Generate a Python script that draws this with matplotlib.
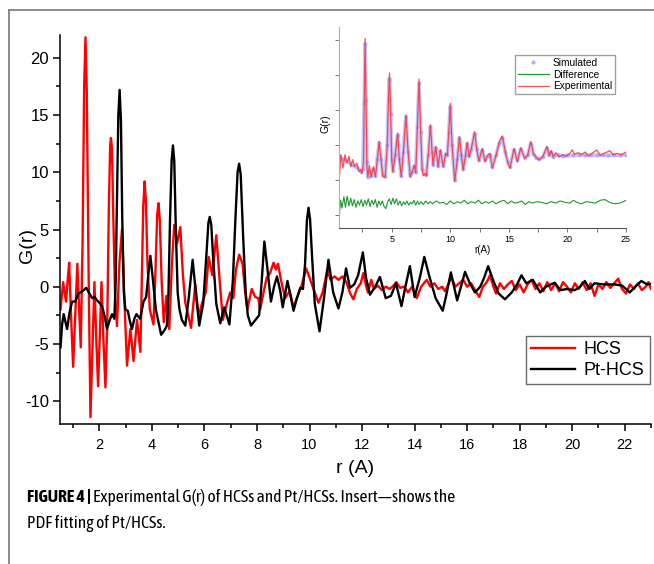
import matplotlib
matplotlib.use('Agg')
import matplotlib.pyplot as plt
from matplotlib.lines import Line2D
from matplotlib.ticker import MultipleLocator, NullFormatter
from matplotlib import font_manager

plt.rcParams['font.family'] = ['Liberation Sans', 'DejaVu Sans']
plt.rcParams['axes.unicode_minus'] = False

# ---- main plot data: G(r) of HCS and Pt-HCS ----
hcs_r = [0.52, 0.58, 0.62, 0.68, 0.73, 0.79, 0.85, 0.92, 1.0, 1.08, 1.16, 1.22, 1.29, 1.36, 1.42, 1.47,
         1.52, 1.59, 1.66, 1.74, 1.81, 1.88, 1.95, 2.02, 2.08, 2.15, 2.23, 2.3, 2.36, 2.41, 2.44, 2.48,
         2.53, 2.6, 2.67, 2.76, 2.86, 2.95, 3.05, 3.18, 3.30, 3.43, 3.56, 3.62, 3.67, 3.72, 3.77, 3.83,
         3.92, 4.06, 4.13, 4.2, 4.25, 4.3, 4.37, 4.45, 4.55, 4.66, 4.76, 4.85, 4.96, 5.08, 5.18, 5.27,
         5.38, 5.49, 5.65, 5.78, 5.9, 6.05, 6.16, 6.3, 6.45, 6.58, 6.7, 6.85, 6.98, 7.1, 7.2, 7.32,
         7.45, 7.55, 7.63, 7.8, 7.93, 8.05, 8.12, 8.25, 8.37, 8.5, 8.63, 8.72, 8.8, 8.92, 9.07, 9.24,
         9.39, 9.55, 9.71, 9.87, 10.0, 10.15, 10.34, 10.5, 10.68, 10.8, 10.95, 11.1, 11.25, 11.4,
         11.55, 11.67, 11.8, 11.95, 12.05, 12.15, 12.22, 12.35, 12.45, 12.6, 12.75, 12.9, 13.05, 13.2,
         13.3, 13.45, 13.6, 13.75, 13.9, 14.08, 14.25, 14.46, 14.6, 14.75, 14.9, 15.05, 15.16, 15.3,
         15.4, 15.55, 15.7, 15.85, 16.0, 16.15, 16.3, 16.46, 16.6, 16.75, 16.87, 17.0, 17.1, 17.25,
         17.4, 17.55, 17.7, 17.85, 18.0, 18.15, 18.3, 18.45, 18.6, 18.75, 18.9, 19.05, 19.2, 19.35,
         19.5, 19.65, 19.8, 19.95, 20.1, 20.25, 20.4, 20.55, 20.7, 20.85, 21.0, 21.15, 21.3, 21.45,
         21.6, 21.75, 21.9, 22.05, 22.2, 22.35, 22.5, 22.65, 22.8, 22.9, 23.0]
hcs_g = [-2.0, -0.5, 0.4, -0.6, -1.3, 0.5, 2.1, -2.5, -7.0, -2.5, 2.0, -1.5, -5.3, 4.0, 17.5, 21.8,
         17.0, 1.0, -11.4, -5.0, 0.4, -4.5, -8.7, -4.0, 0.4, -4.5, -8.8, -3.0, 7.0, 12.3, 13.0, 12.0,
         6.0, -1.0, -3.45, 2.0, 5.0, -1.0, -6.9, -3.7, -6.5, -2.9, -5.7, 1.0, 7.0, 9.2, 7.5, 2.0,
         -2.0, -3.3, 1.0, 6.3, 7.3, 5.8, 0.5, -3.1, -0.8, -3.7, 2.0, 5.4, 3.8, 5.2, 1.0, -1.4,
         -2.5, -3.6, 0.2, -2.6, -1.5, -0.5, 2.6, 1.0, 4.5, 0.5, -2.9, -1.5, -0.5, -1.0, 1.5, 2.8,
         2.0, -0.5, -2.0, -0.2, -0.9, -1.0, -2.0, -0.5, 0.8, 1.2, 2.1, 1.5, 2.0, 0.5, -1.0, -0.4,
         -1.8, -0.8, 0.2, 1.6, 0.8, -0.2, -1.4, -0.5, 1.5, 0.6, 0.9, 0.6, 0.9, 0.4,
         -0.6, -1.1, -0.2, 0.3, 1.2, 0.1, -0.5, 0.6, -0.2, 0.1, -0.3, 0.0, -0.2, 0.1,
         0.4, -0.1, 0.0, -0.5, 0.0, -1.0, 0.0, 0.6, 0.0, 0.3, -0.2, 0.0, -0.4, 0.3,
         0.8, 0.0, 0.3, 0.6, 0.0, 0.3, -0.3, -0.9, 0.0, 0.4, 1.0, 0.0, -0.6, 0.3,
         -0.2, 0.2, 0.5, -0.3, 0.2, -0.5, 0.2, 0.6, -0.2, 0.3, -0.4, 0.4, -0.3, 0.3,
         -0.4, 0.4, 0.0, -0.5, 0.3, -0.2, 0.4, -0.3, 0.3, -0.8, 0.2, -0.2, 0.4, -0.1,
         0.3, 0.7, -0.2, -0.6, 0.2, -0.2, 0.3, -0.3, 0.0, 0.4, -0.2]

pt_r = [0.52, 0.58, 0.64, 0.7, 0.77, 0.86, 0.96, 1.08, 1.2, 1.35, 1.5, 1.6, 1.72, 1.82, 1.91, 2.0,
        2.1, 2.2, 2.29, 2.38, 2.48, 2.57, 2.62, 2.67, 2.72, 2.77, 2.82, 2.87, 2.93, 2.99, 3.08, 3.16,
        3.24, 3.33, 3.41, 3.55, 3.68, 3.78, 3.86, 3.94, 4.02, 4.15, 4.35, 4.48, 4.57, 4.63, 4.69, 4.75,
        4.8, 4.85, 4.91, 4.98, 5.05, 5.14, 5.27, 5.4, 5.55, 5.67, 5.8, 5.95, 6.08, 6.15, 6.2, 6.26,
        6.33, 6.45, 6.6, 6.75, 6.95, 7.08, 7.17, 7.26, 7.32, 7.38, 7.47, 7.57, 7.65, 7.77, 7.94, 8.08,
        8.18, 8.28, 8.4, 8.53, 8.65, 8.76, 8.88, 8.98, 9.16, 9.28, 9.39, 9.52, 9.65, 9.75, 9.83, 9.9,
        9.96, 10.02, 10.1, 10.2, 10.38, 10.55, 10.72, 10.9, 11.1, 11.25, 11.39, 11.54, 11.7, 11.85,
        12.03, 12.15, 12.3, 12.5, 12.68, 12.9, 13.1, 13.29, 13.5, 13.65, 13.82, 14.0, 14.2, 14.37,
        14.55, 14.8, 15.07, 15.2, 15.38, 15.62, 15.8, 15.92, 16.1, 16.3, 16.5, 16.65, 16.8, 17.0,
        17.2, 17.44, 17.7, 17.9, 18.07, 18.25, 18.5, 18.78, 19.0, 19.33, 19.55, 19.8, 20.1, 20.3,
        20.48, 20.65, 20.85, 21.2, 21.6, 21.9, 22.19, 22.4, 22.63, 22.85, 23.0]
pt_g = [-5.3, -3.3, -2.4, -3.0, -3.7, -2.3, -1.3, -1.3, -0.6, -0.4, -0.1, -0.5, -1.0, -0.9, -1.2, -1.4,
        -1.7, -2.6, -3.7, -3.0, -2.4, -2.8, 0.5, 8.0, 15.0, 17.2, 14.5, 6.0, -0.5, -2.0, -2.1, -3.0,
        -3.7, -2.8, -2.4, -2.8, -1.3, -0.9, 1.0, 2.7, 1.0, -2.0, -4.2, -3.8, -3.4, -0.5, 6.0, 11.0,
        12.35, 11.0, 5.0, -0.5, -2.0, -2.9, -3.4, -1.0, 2.35, -0.5, -3.4, -1.5, 3.0, 5.6, 6.1, 5.4,
        2.5, -1.5, -3.2, -1.8, -3.3, 0.5, 5.5, 10.0, 10.75, 9.8, 4.5, -0.5, -2.5, -3.4, -2.9, -2.5,
        0.5, 3.95, 1.5, -1.3, 0.0, 0.9, -0.3, -1.8, 0.5, -0.8, -2.1, -1.0, -0.1, -0.2, 2.0, 5.8,
        6.9, 5.9, 2.5, -1.5, -3.9, -1.0, 2.35, -0.5, -1.9, -0.5, 1.6, -0.1, 0.2, 1.0,
        3.0, 0.8, -0.7, 0.0, 0.85, -1.0, -0.8, 0.3, -1.7, 0.0, 1.8, -0.9, 0.8, 2.6,
        1.0, -1.0, -2.1, -0.8, 1.25, -1.2, 0.3, 1.3, 0.3, -0.5, 0.0, 0.8, 1.8, 0.5,
        -0.6, -1.1, -0.5, 0.2, 1.0, 0.3, 0.6, -0.5, 0.0, 0.35, -0.3, -0.2, -0.3, 0.0,
        0.5, -0.2, 0.3, 0.2, 0.2, 0.1, -0.5, 0.0, 0.5, 0.2, 0.25]

# ---- inset data: PDF fit of Pt/HCS (vertical units arbitrary) ----
exp_r = [0.5, 0.6, 0.67, 0.84, 1.01, 1.18, 1.36, 1.5, 1.67, 1.84, 2.02, 2.2, 2.35, 2.45, 2.59, 2.66,
         2.73, 2.8, 2.88, 2.96, 3.1, 3.24, 3.44, 3.61, 3.78, 3.93, 4.08, 4.24, 4.44, 4.62, 4.73, 4.81,
         4.9, 5.0, 5.1, 5.3, 5.5, 5.65, 5.81, 6.0, 6.21, 6.4, 6.58, 6.75, 6.93, 7.05, 7.2, 7.33, 7.47,
         7.6, 7.67, 7.8, 7.95, 8.12, 8.3, 8.45, 8.53, 8.75, 8.96, 9.15, 9.4, 9.6, 9.75, 9.88, 10.0,
         10.15, 10.38, 10.6, 10.78, 10.95, 11.1, 11.3, 11.44, 11.6, 11.8, 12.07, 12.25, 12.44, 12.73,
         12.96, 13.18, 13.38, 13.59, 13.9, 14.2, 14.44, 14.7, 14.9, 15.1, 15.44, 15.73, 16.01, 16.35,
         16.6, 16.87, 17.1, 17.35, 17.58, 17.9, 18.24, 18.45, 18.6, 18.8, 19.0, 19.3, 19.6, 19.9,
         20.2, 20.4, 20.6, 20.9, 21.2, 21.5, 21.8, 22.1, 22.5, 22.8, 23.1, 23.4, 23.6, 23.9, 24.2,
         24.6, 25.0]
exp_g = [-0.4, 2.0, 3.6, 1.7, 3.6, 2.4, 3.4, 1.9, 2.9, 1.9, 2.4, 1.2, 1.5, 0.95, 2.4, 12.0,
         20.2, 12.0, 2.0, 0.5, 2.1, 0.4, 1.9, 0.5, 3.0, 5.5, 3.0, 0.5, 0.3, 5.0, 12.0, 15.3,
         10.0, 3.0, 1.2, 3.5, 6.7, 3.0, 0.5, 4.0, 9.3, 4.0, 0.5, 1.2, 2.1, 1.0, 8.0, 14.4, 7.0,
         1.5, 0.6, 0.9, 0.5, 3.5, 7.9, 4.0, 2.1, 4.8, 1.9, 4.3, 1.9, 3.8, 3.5, 7.0, 10.95,
         5.0, -0.2, 3.0, 6.2, 3.5, 1.4, 3.5, 5.4, 3.3, 4.5, 6.9, 4.5, 2.7, 4.5,
         2.6, 3.5, 3.8, 1.7, 3.5, 5.5, 6.3, 4.0, 2.5, 1.7, 4.5, 2.6, 4.6, 3.1,
         3.5, 5.5, 3.8, 3.2, 2.9, 3.3, 4.8, 3.5, 4.2, 3.3, 3.9, 3.3, 3.6, 3.4,
         3.8, 4.3, 3.7, 3.9, 3.6, 4.0, 3.4, 3.8, 4.3, 3.5, 3.8, 4.0, 4.2, 3.6, 3.8,
         3.6, 4.0]

sim_r = [0.5, 0.8, 1.2, 1.6, 2.0, 2.4, 2.55, 2.66, 2.73, 2.8, 2.88, 2.96, 3.1, 3.24, 3.44, 3.61,
         3.78, 3.93, 4.08, 4.24, 4.44, 4.62, 4.73, 4.81, 4.9, 5.0, 5.1, 5.3, 5.5, 5.65, 5.81, 6.0,
         6.21, 6.4, 6.58, 6.75, 6.93, 7.05, 7.2, 7.33, 7.47, 7.6, 7.8, 7.95, 8.12, 8.3, 8.45, 8.53,
         8.75, 8.96, 9.15, 9.4, 9.6, 9.75, 9.88, 10.0, 10.15, 10.38, 10.6, 10.78, 10.95, 11.1, 11.3,
         11.44, 11.6, 11.8, 12.07, 12.25, 12.44, 12.73, 12.96, 13.18, 13.38, 13.59, 13.9, 14.2,
         14.44, 14.7, 14.9, 15.1, 15.44, 15.73, 16.01, 16.35, 16.6, 16.87, 17.1, 17.35, 17.58,
         17.9, 18.24, 18.45, 18.6, 18.8, 19.2, 19.6, 20.0, 20.5, 21.0, 21.5, 22.0, 22.5, 23.0,
         23.5, 24.0, 24.5, 25.0]
sim_g = [3.4, 3.0, 2.7, 2.2, 1.8, 1.2, 1.6, 11.0, 19.5, 11.5, 2.5, 0.4, 1.2, 0.6, 1.5, 0.6,
         3.0, 5.3, 3.0, 0.7, 0.6, 5.0, 11.5, 14.5, 9.5, 3.0, 1.3, 3.5, 6.4, 3.0, 0.6, 4.0,
         9.0, 4.0, 0.6, 1.2, 2.0, 1.1, 7.5, 13.8, 6.8, 1.6, 0.9, 0.8, 3.5, 7.6, 4.0, 2.2,
         4.6, 2.0, 4.2, 2.0, 3.7, 3.5, 6.8, 10.5, 5.0, 0.0, 3.0, 6.0, 3.5, 1.5, 3.5,
         5.2, 3.4, 4.4, 6.6, 4.4, 2.8, 4.3, 2.8, 3.4, 3.6, 1.9, 3.5, 5.3,
         6.0, 4.0, 2.6, 1.9, 4.3, 2.8, 4.4, 3.2, 3.5, 5.2, 3.7, 3.2, 3.0,
         3.3, 4.5, 3.5, 4.0, 3.3, 3.6, 3.4, 3.5, 3.5, 3.6, 3.5, 3.6, 3.5, 3.6,
         3.5, 3.6, 3.5, 3.6]

diff_r = [0.5, 0.55, 0.64, 0.75, 0.92, 1.05, 1.2, 1.35, 1.5, 1.65, 1.8, 1.95, 2.1, 2.25, 2.4, 2.55,
          2.7, 2.85, 3.0, 3.15, 3.3, 3.45, 3.6, 3.75, 3.9, 4.05, 4.2, 4.35, 4.5, 4.65, 4.8, 4.95,
          5.1, 5.25, 5.4, 5.55, 5.7, 5.85, 6.0, 6.15, 6.3, 6.45, 6.6, 6.75, 6.9, 7.05, 7.2, 7.35,
          7.5, 7.7, 7.9, 8.1, 8.3, 8.5, 8.8, 9.1, 9.4, 9.7, 10.0, 10.3, 10.6, 10.9, 11.2, 11.5,
          11.8, 12.1, 12.4, 12.7, 13.0, 13.3, 13.6, 13.9, 14.2, 14.6, 14.9, 15.2, 15.5, 15.8, 16.1,
          16.4, 16.7, 17.0, 17.4, 17.8, 18.2, 18.6, 19.0, 19.4, 19.8, 20.2, 20.5, 20.8, 21.2, 21.6,
          22.0, 22.4, 22.8, 23.2, 23.6, 24.0, 24.5, 25.0]
diff_g = [-6.7, -4.5, -2.9, -4.0, -2.4, -3.9, -2.3, -3.7, -2.6, -3.7, -2.8, -3.9, -3.0, -3.6, -2.8, -3.8,
          -2.9, -3.6, -2.7, -3.8, -2.9, -3.5, -2.8, -3.9, -3.0, -3.6, -3.0, -3.8, -4.1, -3.1, -2.7, -3.5,
          -2.6, -3.4, -2.7, -3.6, -3.0, -3.7, -3.1, -3.5, -3.0, -3.6, -3.2, -3.4, -2.9, -3.6, -3.0, -3.5,
          -3.1, -3.5, -3.0, -3.4, -3.1, -3.4, -3.0, -3.3, -3.2, -3.5, -3.0, -3.4, -3.1, -3.3, -2.9, -3.4,
          -3.1, -3.3, -2.9, -3.4, -3.1, -3.3, -3.0, -3.4, -3.1, -2.9, -3.4, -3.0, -3.3, -3.2, -3.0,
          -3.5, -3.1, -3.3, -3.1, -3.2, -3.4, -3.1, -3.3, -3.0, -3.2, -3.3, -2.9, -3.2, -3.4, -3.1,
          -3.2, -3.3, -2.9, -2.8, -3.2, -3.4, -3.3, -2.9]

W, H = 654, 564
fig = plt.figure(figsize=(W / 100, H / 100), dpi=100)

# main axes
ax = fig.add_axes([60 / W, 1 - 424 / H, 591 / W, 389 / H])
ax.plot(hcs_r, hcs_g, color='#ff0000', lw=1.7, label='HCS')
ax.plot(pt_r, pt_g, color='black', lw=1.7, label='Pt-HCS')
ax.set_xlim(0.5, 23)
ax.set_ylim(-12, 22)
for s in ['top', 'right']:
    ax.spines[s].set_visible(False)
ax.spines['left'].set_linewidth(1.1)
ax.spines['bottom'].set_linewidth(1.1)
ax.xaxis.set_major_locator(MultipleLocator(2))
ax.xaxis.set_minor_locator(MultipleLocator(1))
ax.yaxis.set_major_locator(MultipleLocator(5))
ax.yaxis.set_minor_locator(MultipleLocator(2.5))
ax.tick_params(which='major', direction='out', length=5, width=1.1)
ax.tick_params(which='minor', direction='out', length=3, width=1.1)
ax.tick_params(axis='x', labelsize=10.5, pad=5)
ax.tick_params(axis='y', labelsize=12, pad=3)
ax.set_xlabel('r (A)', fontsize=14, labelpad=6)
ax.set_ylabel('G(r)', fontsize=14)
ax.yaxis.set_label_coords(-0.04, 0.46)
ax.legend(loc='upper right', bbox_to_anchor=(650 / W, 1 - 336 / H), bbox_transform=fig.transFigure,
          fontsize=13, frameon=True, fancybox=False, edgecolor='#444444', handlelength=2.4,
          borderpad=0.3, labelspacing=0.2, handletextpad=0.5, borderaxespad=0)

# inset
ins = fig.add_axes([339 / W, 1 - 228 / H, 287 / W, 201 / H])
ins.patch.set_alpha(0)
ins.plot(sim_r, sim_g, color='#8c8cff', lw=2.8, alpha=0.5, solid_capstyle='round')
ins.plot(sim_r, sim_g, color='#a0a0ff', lw=0, marker='o', ms=1.8, alpha=0.6)
ins.plot(exp_r, exp_g, color='#ff3030', lw=0.9, alpha=0.85)
ins.plot(diff_r, diff_g, color='#1e9a2e', lw=0.8)
ins.set_xlim(0.5, 25)
ins.set_ylim(-6.86, 21.86)
for s in ['top', 'right']:
    ins.spines[s].set_visible(False)
ins.spines['left'].set_color('#b0b0b0')
ins.spines['bottom'].set_color('#555555')
ins.spines['left'].set_linewidth(0.8)
ins.spines['bottom'].set_linewidth(0.8)
ins.xaxis.set_major_locator(MultipleLocator(5))
ins.xaxis.set_minor_locator(MultipleLocator(2.5))
ins.yaxis.set_major_locator(MultipleLocator(5))
ins.yaxis.set_major_formatter(NullFormatter())
ins.tick_params(which='both', direction='out', length=3, width=0.7, color='#777777', labelsize=6.5, pad=2)
ins.set_xlabel('r(A)', fontsize=7, labelpad=1)
ins.set_ylabel('G(r)', fontsize=7.5)
ins.yaxis.set_label_coords(-0.03, 0.52)
handles = [Line2D([], [], color='#b0b0ff', marker='o', ms=2, lw=0),
           Line2D([], [], color='#1e9a2e', lw=0.9),
           Line2D([], [], color='#ff5050', lw=0.9)]
ins.legend(handles, ['Simulated', 'Difference', 'Experimental'], loc='upper right',
           bbox_to_anchor=(615 / W, 1 - 55 / H), bbox_transform=fig.transFigure, fontsize=7.3,
           frameon=True, fancybox=False, edgecolor='#888888', handlelength=3.0,
           borderpad=0.3, labelspacing=0.15, handletextpad=0.4, borderaxespad=0)

# frame lines around the figure panel
fig.add_artist(Line2D([9 / W, 9 / W], [0, 1 - 10 / H], color='#777777', lw=1.2))
fig.add_artist(Line2D([9 / W, 1], [1 - 10 / H, 1 - 10 / H], color='#777777', lw=1.2))

# caption: pick a condensed family that also has a bold face
def wnum(w):
    return w if isinstance(w, int) else font_manager.weight_dict.get(w, 400)

narrow = {}
for f in font_manager.fontManager.ttflist:
    if 'Narrow' in f.name or 'Condensed' in f.name:
        narrow.setdefault(f.name, set()).add(wnum(f.weight))
cap_font, cap_size = 'Liberation Sans', 9.8
for name in sorted(narrow):
    ws = narrow[name]
    if max(ws) >= 700 and min(ws) <= 400:
        cap_font, cap_size = name, 12.6
        break
t1 = fig.text(27 / W, 1 - 497 / H, 'FIGURE 4 | ', fontsize=cap_size, fontweight='bold',
              family=cap_font, va='center', ha='left')
fig.canvas.draw()
bb = t1.get_window_extent(fig.canvas.get_renderer())
fig.text(bb.x1 / W, 1 - 497 / H, 'Experimental G(r) of HCSs and Pt/HCSs. Insert\u2014shows the',
         fontsize=cap_size, family=cap_font, va='center', ha='left')
fig.text(27 / W, 1 - 523 / H, 'PDF fitting of Pt/HCSs.', fontsize=cap_size, family=cap_font,
         va='center', ha='left')

fig.savefig('out.png', dpi=100)
